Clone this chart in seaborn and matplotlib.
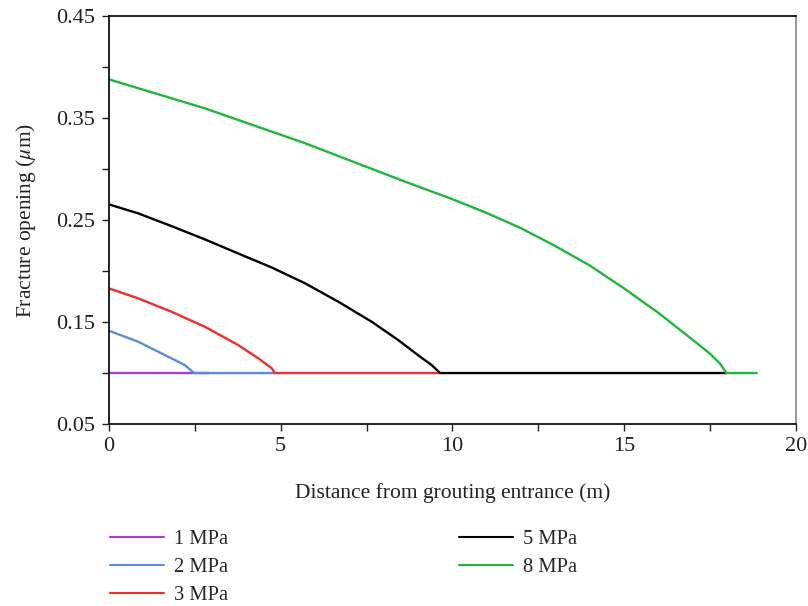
import matplotlib
matplotlib.use('Agg')
import matplotlib.pyplot as plt
import seaborn as sns
import pandas as pd
from matplotlib.ticker import MultipleLocator

labels = ['1 MPa', '2 MPa', '3 MPa', '5 MPa', '8 MPa']
colors = ['#a23fd6', '#5a8fd8', '#f52a2a', '#000000', '#1cb83a']

x_1 = [0.0, 1.0, 2.0, 2.9]
y_1 = [0.100, 0.100, 0.100, 0.100]

x_2 = [0.0, 0.85, 1.82, 2.2, 2.48, 3.5, 4.83]
y_2 = [0.1415, 0.1307, 0.1144, 0.108, 0.100, 0.100, 0.100]

x_3 = [0.0, 0.85, 1.82, 2.79, 3.76, 4.35, 4.74, 4.83, 7.0, 9.64]
y_3 = [0.183, 0.1732, 0.1601, 0.1454, 0.1275, 0.1144, 0.1046, 0.100, 0.100, 0.100]

x_5 = [0.0, 0.85, 1.82, 2.79, 3.76, 4.74, 5.71, 6.68, 7.65, 8.42, 9.0, 9.39, 9.64, 14.0, 17.98]
y_5 = [0.2654, 0.2566, 0.2441, 0.2311, 0.2173, 0.2035, 0.188, 0.1699, 0.1503, 0.1324,
       0.1175, 0.108, 0.100, 0.100, 0.100]

x_8 = [0.0, 2.8, 5.7, 8.6, 10.0, 11.0, 12.0, 13.0, 14.0, 15.0, 16.0, 17.0,
       17.5, 17.8, 17.98, 18.4, 18.86]
y_8 = [0.388, 0.3595, 0.3255, 0.288, 0.2705, 0.257, 0.242, 0.2245, 0.2055, 0.183,
       0.159, 0.1325, 0.119, 0.109, 0.100, 0.100, 0.100]

xs = [x_1, x_2, x_3, x_5, x_8]
ys = [y_1, y_2, y_3, y_5, y_8]

rows = []
for lab, xv, yv in zip(labels, xs, ys):
    for a, b in zip(xv, yv):
        rows.append({'distance': a, 'opening': b, 'pressure': lab})
df = pd.DataFrame(rows)

sns.set_style('ticks')
plt.rcParams['font.family'] = ['Liberation Serif', 'DejaVu Serif']
plt.rcParams['mathtext.fontset'] = 'stix'

fig = plt.figure(figsize=(8.08, 6.06), dpi=100)
ax = fig.add_axes([0.1349, 0.3003, 0.850, 0.673])

sns.lineplot(data=df, x='distance', y='opening', hue='pressure', hue_order=labels,
             palette=dict(zip(labels, colors)), sort=False, estimator=None,
             linewidth=1.7, ax=ax, legend=False)

ax.set_xlim(0, 20)
ax.set_ylim(0.05, 0.45)
ax.xaxis.set_major_locator(MultipleLocator(5))
ax.xaxis.set_minor_locator(MultipleLocator(2.5))
ax.set_yticks([0.05, 0.15, 0.25, 0.35, 0.45])
ax.set_yticklabels(['0.05', '0.15', '0.25', '0.35', '0.45'])
ax.yaxis.set_minor_locator(MultipleLocator(0.05))
ax.tick_params(which='both', direction='out', length=5, width=1, colors='#222222',
               labelsize=16, pad=5)
ax.tick_params(axis='x', pad=4)

for s in ['left', 'bottom', 'top']:
    ax.spines[s].set_color('#111111')
    ax.spines[s].set_linewidth(1.3)
ax.spines['right'].set_color('#888888')
ax.spines['right'].set_linewidth(1.2)

ax.set_xlabel('Distance from grouting entrance (m)', fontsize=15.5, labelpad=20, color='#222222')
ax.set_ylabel(r'Fracture opening ($\mu$m)', fontsize=15.5, labelpad=13, color='#222222')

handles = [plt.Line2D([], [], color=c, lw=1.5) for c in colors]
leg = fig.legend(handles, labels, ncol=2, loc='upper left',
                 bbox_to_anchor=(0.1133, 1 - 511 / 606), bbox_transform=fig.transFigure,
                 frameon=False, fontsize=14.8, handlelength=2.63, handletextpad=0.5,
                 columnspacing=11.2, labelspacing=0.42)

fig.savefig('out.png', dpi=100)
